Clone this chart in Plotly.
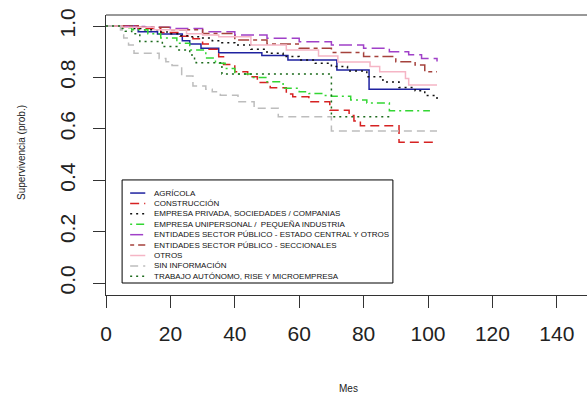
import plotly.graph_objects as go

# ---------------- data ----------------
series_names = [
    "AGRÍCOLA",
    "CONSTRUCCIÓN",
    "EMPRESA PRIVADA, SOCIEDADES / COMPANIAS",
    "EMPRESA UNIPERSONAL /  PEQUEÑA INDUSTRIA",
    "ENTIDADES SECTOR PÚBLICO - ESTADO CENTRAL Y OTROS",
    "ENTIDADES SECTOR PÚBLICO - SECCIONALES",
    "OTROS",
    "SIN INFORMACIÓN",
    "TRABAJO AUTÓNOMO, RISE Y MICROEMPRESA",
]

agricola_t = [0, 10, 16, 23.7, 26, 29.5, 35, 48.4, 56.5, 71.7, 81.7, 100.6]
agricola_s = [1.0, 0.978, 0.969, 0.943, 0.93, 0.913, 0.896, 0.885, 0.868, 0.829, 0.754, 0.754]

construccion_t = [0, 10, 17, 23, 27, 30, 32, 35, 36.5, 40, 44, 47, 51, 56, 58, 63, 69.5, 75.5, 77, 79, 91, 101.5]
construccion_s = [1.0, 0.99, 0.975, 0.96, 0.95, 0.93, 0.91, 0.88, 0.85, 0.822, 0.803, 0.78, 0.76, 0.735, 0.725, 0.705, 0.672, 0.652, 0.63, 0.612, 0.548, 0.548]

privada_t = [0, 4, 8, 12, 16, 19, 23, 26, 29, 33, 36, 40, 45, 50, 55, 60, 65, 70, 75, 81, 86, 91, 96, 99, 102.8]
privada_s = [1.0, 0.995, 0.99, 0.985, 0.977, 0.97, 0.962, 0.958, 0.953, 0.943, 0.935, 0.926, 0.91, 0.894, 0.881, 0.868, 0.855, 0.842, 0.825, 0.803, 0.782, 0.761, 0.748, 0.73, 0.712]

unipersonal_t = [0, 5, 8, 13, 17, 22, 26, 31, 34, 37, 40, 45, 50, 55, 60, 63, 67, 70, 76, 81, 88, 100.6]
unipersonal_s = [1.0, 0.993, 0.985, 0.97, 0.953, 0.933, 0.907, 0.875, 0.855, 0.835, 0.813, 0.80, 0.783, 0.758, 0.744, 0.737, 0.73, 0.727, 0.712, 0.70, 0.67, 0.67]

estado_t = [0, 5, 12, 20, 30, 40, 50, 60, 70, 80, 88, 94, 98, 102.8]
estado_s = [1.0, 0.998, 0.995, 0.99, 0.978, 0.965, 0.952, 0.939, 0.926, 0.913, 0.9, 0.888, 0.874, 0.862]

seccionales_t = [0, 10, 20, 30, 40, 50, 60, 70, 80, 90, 96, 99, 102.8]
seccionales_s = [1.0, 0.995, 0.985, 0.971, 0.946, 0.93, 0.913, 0.897, 0.881, 0.861, 0.848, 0.822, 0.822]

otros_t = [0, 5, 15, 25, 30, 35, 45, 56, 66, 72, 82, 85, 93, 94, 102.8]
otros_s = [1.0, 0.995, 0.985, 0.97, 0.965, 0.958, 0.926, 0.907, 0.883, 0.86, 0.842, 0.822, 0.796, 0.77, 0.77]

sininfo_t = [0, 4.5, 5.5, 7, 8.7, 16.5, 18.6, 20.5, 23.5, 27, 31, 33, 35.5, 41, 46, 53.5, 70, 102.8]
sininfo_s = [1.0, 0.984, 0.953, 0.926, 0.894, 0.874, 0.861, 0.846, 0.805, 0.767, 0.754, 0.744, 0.731, 0.705, 0.68, 0.647, 0.591, 0.591]

trabajo_t = [0, 4.5, 6, 8, 10.5, 17.5, 22, 26, 27.5, 28, 36, 70, 89.1]
trabajo_s = [1.0, 0.99, 0.98, 0.97, 0.94, 0.92, 0.907, 0.887, 0.868, 0.857, 0.813, 0.647, 0.647]

x_ticks = [0, 20, 40, 60, 80, 100, 120, 140]
y_ticks = [0.0, 0.2, 0.4, 0.6, 0.8, 1.0]
y_tick_labels = ["0.0", "0.2", "0.4", "0.6", "0.8", "1.0"]

# ---------------- styles ----------------
times = [agricola_t, construccion_t, privada_t, unipersonal_t, estado_t,
         seccionales_t, otros_t, sininfo_t, trabajo_t]
survs = [agricola_s, construccion_s, privada_s, unipersonal_s, estado_s,
         seccionales_s, otros_s, sininfo_s, trabajo_s]
colors = ["#1f22a0", "#d62222", "#111111", "#33d633", "#a040c8",
          "#a5423c", "#f5b5c5", "#bdbdbd", "#1d6b1d"]
dashes = ["solid", "9px,5px", "2px,4px", "2px,4px,8px,4px", "13px,5px",
          "4px,4px,11px,4px", "solid", "8px,5px", "2px,4px"]

W, H = 595, 394          # figure slightly wider than the 587px window (box edge is off-screen)
VIEW_W = 587
ML, MT, MB = 106, 15, 99
px_per_x = 3.22
x_max = (W - ML) / px_per_x
y_lo, y_hi = -0.0467, 1.0428
FONT = "Liberation Sans, Arial"

fig = go.Figure()
for name, t, s, c, d in zip(series_names, times, survs, colors, dashes):
    fig.add_trace(go.Scatter(x=t, y=s, mode="lines", name=name,
                             line=dict(color=c, width=1.5, dash=d, shape="hv"),
                             showlegend=False, hoverinfo="skip"))

# manual legend (R-style box) in data coordinates
leg_x0, leg_x1, leg_y0, leg_y1 = 5.0, 89.1, 0.0, 0.401
row0, drow = 0.350, 0.0405
fig.add_shape(type="rect", x0=leg_x0, x1=leg_x1, y0=leg_y0, y1=leg_y1,
              line=dict(color="black", width=1), fillcolor="white", layer="above")
for i, (name, c, d) in enumerate(zip(series_names, colors, dashes)):
    yy = row0 - i * drow
    fig.add_shape(type="line", x0=7.5, x1=12.2, y0=yy, y1=yy,
                  line=dict(color=c, width=1.5, dash=d), layer="above")
    fig.add_annotation(x=14.3, y=yy, text=name, showarrow=False,
                       xanchor="left", yanchor="middle",
                       font=dict(family=FONT, size=8, color="#111"))

# top border of box
fig.add_shape(type="line", xref="paper", yref="paper", x0=0, x1=1, y0=1, y1=1,
              line=dict(color="#333", width=1))

# axis titles
fig.add_annotation(xref="paper", yref="paper", x=(348 - ML) / (W - ML), y=(H - MB - 388) / (H - MB - MT),
                   text="Mes", showarrow=False, xanchor="center", yanchor="middle",
                   font=dict(family=FONT, size=10, color="#222"))
fig.add_annotation(xref="paper", yref="paper", x=(21 - ML) / (W - ML), y=(H - MB - 153) / (H - MB - MT),
                   text="Supervivencia (prob.)", showarrow=False, textangle=-90,
                   xanchor="center", yanchor="middle",
                   font=dict(family=FONT, size=10, color="#222"))

fig.update_layout(
    width=W, height=H,
    margin=dict(l=ML, r=0, t=MT, b=MB, pad=0, autoexpand=False),
    plot_bgcolor="white", paper_bgcolor="white",
    showlegend=False,
    xaxis=dict(range=[0, x_max], tickvals=x_ticks, ticks="outside", ticklen=12,
               tickcolor="#333", showline=True, linecolor="#333", linewidth=1,
               showgrid=False, zeroline=False, ticklabelstandoff=8, automargin=False,
               tickfont=dict(family=FONT, size=21, color="#222")),
    yaxis=dict(range=[y_lo, y_hi], tickvals=y_ticks, ticktext=y_tick_labels,
               ticks="outside", ticklen=12, tickangle=-90, automargin=False,
               tickcolor="#333", showline=True, linecolor="#333", linewidth=1,
               showgrid=False, zeroline=False, ticklabelstandoff=10,
               tickfont=dict(family=FONT, size=21, color="#222")),
)

fig.write_html("out.html", config={"displayModeBar": False},
               post_script="document.body.style.margin='0';document.body.style.padding='0';"
                           "document.body.style.overflow='hidden';"
                           "document.documentElement.style.overflow='hidden';")
